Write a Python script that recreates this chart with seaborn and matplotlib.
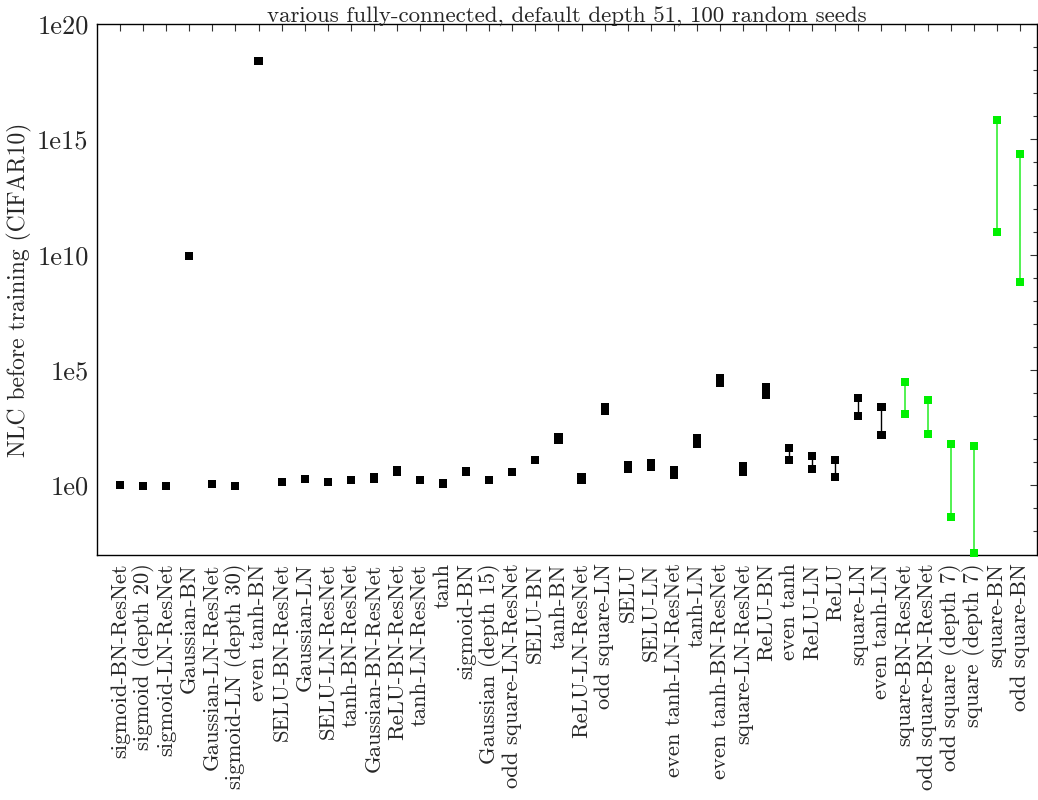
import numpy as np
import pandas as pd
import matplotlib
matplotlib.use("Agg")
import matplotlib.pyplot as plt
import matplotlib.ticker as mticker
import seaborn as sns

categories = [
    "sigmoid-BN-ResNet", "sigmoid (depth 20)", "sigmoid-LN-ResNet", "Gaussian-BN",
    "Gaussian-LN-ResNet", "sigmoid-LN (depth 30)", "even tanh-BN", "SELU-BN-ResNet",
    "Gaussian-LN", "SELU-LN-ResNet", "tanh-BN-ResNet", "Gaussian-BN-ResNet",
    "ReLU-BN-ResNet", "tanh-LN-ResNet", "tanh", "sigmoid-BN", "Gaussian (depth 15)",
    "odd square-LN-ResNet", "SELU-BN", "tanh-BN", "ReLU-LN-ResNet", "odd square-LN",
    "SELU", "SELU-LN", "even tanh-LN-ResNet", "tanh-LN", "even tanh-BN-ResNet",
    "square-LN-ResNet", "ReLU-BN", "even tanh", "ReLU-LN", "ReLU", "square-LN",
    "even tanh-LN", "square-BN-ResNet", "odd square-BN-ResNet", "odd square (depth 7)",
    "square (depth 7)", "square-BN", "odd square-BN",
]
# log10 of NLC, min and max over seeds
log_min = [0.00, -0.02, -0.02, 9.95, 0.04, -0.02, 18.40, 0.13, 0.26, 0.13, 0.22, 0.26,
           0.60, 0.24, 0.07, 0.60, 0.23, 0.58, 1.10, 1.98, 0.24, 3.23, 0.72, 0.81,
           0.46, 1.81, 4.42, 0.59, 3.91, 1.11, 0.71, 0.36, 3.00, 2.18, 3.09, 2.22,
           -1.37, -2.94, 10.98, 8.81]
log_max = [0.00, -0.02, -0.02, 9.95, 0.04, -0.02, 18.40, 0.13, 0.26, 0.13, 0.22, 0.38,
           0.67, 0.24, 0.11, 0.60, 0.23, 0.58, 1.10, 2.10, 0.34, 3.39, 0.88, 0.97,
           0.66, 2.06, 4.65, 0.84, 4.26, 1.62, 1.27, 1.10, 3.78, 3.39, 4.48, 3.70,
           1.79, 1.70, 15.85, 14.36]
highlight = [False] * 34 + [True] * 6

title = "various fully-connected, default depth 51, 100 random seeds"
ylabel = "NLC before training (CIFAR10)"

sns.set_theme(style="white")
plt.rcParams["font.family"] = ["cmr10", "DejaVu Serif"]
plt.rcParams["axes.formatter.use_mathtext"] = True
plt.rcParams["mathtext.fontset"] = "cm"

pos = np.arange(1, len(categories) + 1)
lo = 10.0 ** np.array(log_min)
hi = 10.0 ** np.array(log_max)
group = np.where(highlight, "hl", "base")
df = pd.DataFrame({
    "pos": np.concatenate([pos, pos]),
    "val": np.concatenate([lo, hi]),
    "group": np.concatenate([group, group]),
})

fig = plt.figure(figsize=(10.38, 8.0), dpi=100)
ax = fig.add_axes([97 / 1038, 1 - 555 / 800, (1037 - 97) / 1038, (555 - 24) / 800])

for g, lc in (("base", "#000000"), ("hl", "#44f044")):
    m = group == g
    ax.vlines(pos[m], lo[m], hi[m], colors=lc, linewidth=1.3 if g == "hl" else 1.0, zorder=2)

sns.scatterplot(data=df, x="pos", y="val", hue="group",
                palette={"base": "#000000", "hl": "#00f000"},
                marker="s", s=34, linewidth=0, legend=False, ax=ax, zorder=3, clip_on=False)

ax.set_yscale("log")
ax.set_ylim(10 ** -3.02, 1e20)
ax.set_xlim(0.0, 40.74)
ax.yaxis.set_major_locator(mticker.FixedLocator([1e0, 1e5, 1e10, 1e15, 1e20]))
ax.yaxis.set_major_formatter(mticker.FixedFormatter(["1e0", "1e5", "1e10", "1e15", "1e20"]))
ax.yaxis.set_minor_locator(mticker.FixedLocator([10.0 ** k for k in range(-2, 20) if k % 5 != 0]))
ax.yaxis.set_minor_formatter(mticker.NullFormatter())
ax.set_xticks(pos)
ax.set_xticklabels(categories, rotation=90, fontsize=16.3)
ax.tick_params(axis="both", which="both", direction="in", top=True, right=True,
               color="#333333", width=0.8)
ax.tick_params(axis="both", which="major", length=5)
ax.tick_params(axis="both", which="minor", length=3)
ax.tick_params(axis="y", labelsize=19, pad=6)
ax.tick_params(axis="x", pad=6)
for sp in ax.spines.values():
    sp.set_color("black")
    sp.set_linewidth(1.0)
ax.set_xlabel("")
ax.set_ylabel(ylabel, fontsize=17, labelpad=4)
ax.set_title(title, fontsize=16.5, pad=1)
ax.grid(False)

fig.savefig("out.png", dpi=100)
